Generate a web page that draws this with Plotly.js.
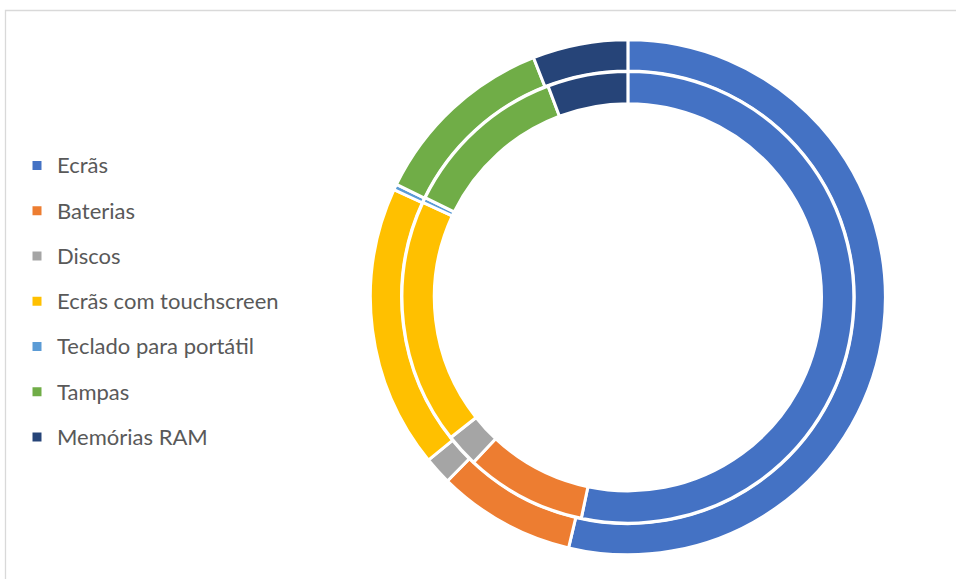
<!DOCTYPE html>
<html>
<head>
<meta charset="utf-8">
<script src="https://cdn.plot.ly/plotly-3.0.1.min.js"></script>
<style>
  html, body { margin: 0; padding: 0; background: #ffffff; }
  #chart { width: 956px; height: 579px; }
</style>
</head>
<body>
<div id="chart"></div>
<script>
// Categories (legend order)
const categories = [
  "Ecrãs",
  "Baterias",
  "Discos",
  "Ecrãs com touchscreen",
  "Teclado para portátil",
  "Tampas",
  "Memórias RAM"
];

// Outer ring values (percent share)
const outerValues = [53.7, 8.66, 1.75, 17.75, 0.36, 11.81, 5.97];

// Inner ring values (percent share)
const innerValues = [53.3, 8.66, 2.37, 17.56, 0.36, 11.98, 5.75];

// Office palette
const colors = ["#4472C4", "#ED7D31", "#A5A5A5", "#FFC000", "#5B9BD5", "#70AD47", "#264478"];

const W = 956, H = 579;
const cx = 627.9, cy = 297.3;      // centre in pixels (from top-left)
const lineW = 3;

function domainFor(r) {
  const yb = H - cy;
  return {
    x: [(cx - r) / W, (cx + r) / W],
    y: [(yb - r) / H, (yb + r) / H]
  };
}

const legendLabels = categories.map(c =>
  '<span style="font-size:22px;baseline-shift:4.8px">' + c + '</span>');

const outerR = 257.5, outerHole = 226.3 / 257.5;
const innerR = 225.9, innerHole = 193.6 / 225.9;

const traces = [
  {
    type: "pie",
    labels: legendLabels,
    values: outerValues,
    hole: outerHole,
    sort: false,
    direction: "clockwise",
    rotation: 0,
    textinfo: "none",
    hoverinfo: "none",
    marker: { colors: colors, line: { color: "#ffffff", width: lineW } },
    domain: domainFor(outerR),
    showlegend: true
  },
  {
    type: "pie",
    labels: legendLabels,
    values: innerValues,
    hole: innerHole,
    sort: false,
    direction: "clockwise",
    rotation: 0,
    textinfo: "none",
    hoverinfo: "none",
    marker: { colors: colors, line: { color: "#ffffff", width: lineW } },
    domain: domainFor(innerR),
    showlegend: true
  }
];

const layout = {
  width: W,
  height: H,
  margin: { l: 0, r: 0, t: 0, b: 0 },
  paper_bgcolor: "#ffffff",
  plot_bgcolor: "#ffffff",
  showlegend: true,
  legend: {
    x: 17 / W,
    xanchor: "left",
    y: 0.7617,
    yanchor: "top",
    orientation: "v",
    bgcolor: "rgba(0,0,0,0)",
    font: { family: "Lato, 'Open Sans', sans-serif", size: 32.5, color: "#595959" },
    traceorder: "normal"
  },
  shapes: [
    {
      type: "rect",
      xref: "paper", yref: "paper",
      x0: 5.5 / W, x1: 1.05,
      y0: -0.05, y1: (H - 10.5) / H,
      line: { color: "#D9D9D9", width: 1.3 },
      fillcolor: "rgba(0,0,0,0)",
      layer: "below"
    }
  ]
};

Plotly.newPlot("chart", traces, layout, { staticPlot: true, displayModeBar: false });
</script>
</body>
</html>
